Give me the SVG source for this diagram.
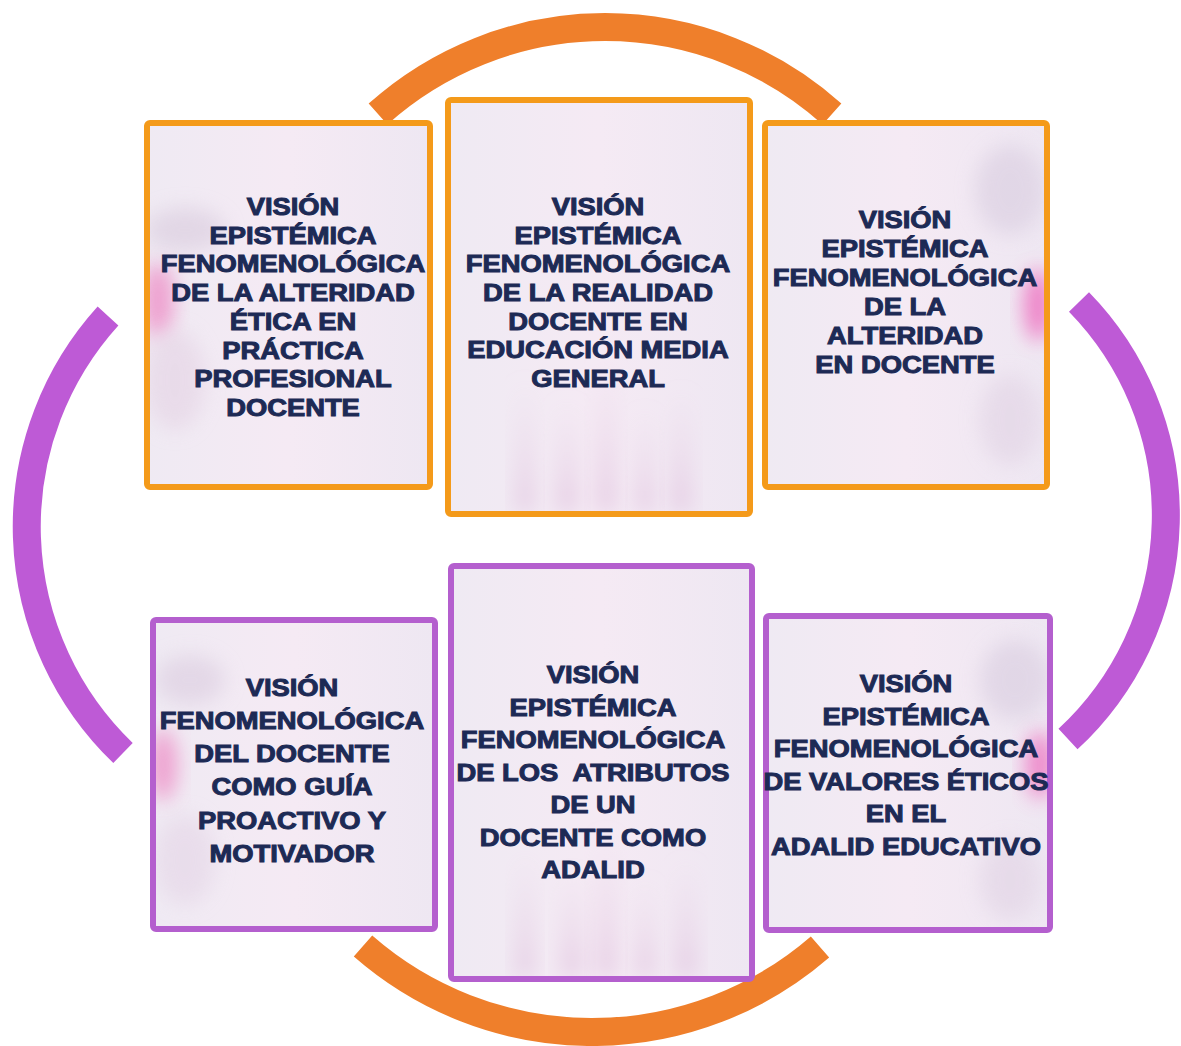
<svg xmlns="http://www.w3.org/2000/svg" width="1181" height="1046" viewBox="0 0 1181 1046">
<defs>
<style>
.arc-o{fill:none;stroke:#EF7F2B;stroke-width:28;stroke-linecap:butt}
.arc-p{fill:none;stroke:#BE5AD6;stroke-width:28;stroke-linecap:butt}
.box-o{fill:url(#bg);stroke:#F49A1A;stroke-width:6}
.box-p{fill:url(#bg);stroke:#B45FCE;stroke-width:6}
.lbl{font-family:"Liberation Sans",Arial,sans-serif;font-weight:bold;font-size:24px;fill:#1D2A55;stroke:#1D2A55;stroke-width:1;text-anchor:middle}
.blob{filter:url(#soft)}
</style>
<linearGradient id="bg" x1="0" y1="0" x2="1" y2="0">
<stop offset="0" stop-color="#EFEAF3"/>
<stop offset="0.5" stop-color="#F5EAF4"/>
<stop offset="1" stop-color="#EEE7F2"/>
</linearGradient>
<linearGradient id="streak" x1="0" y1="0" x2="0" y2="1">
<stop offset="0" stop-color="#E7D2E6" stop-opacity="0"/>
<stop offset="1" stop-color="#DDBBDA" stop-opacity="0.6"/>
</linearGradient>
<filter id="soft" x="-50%" y="-50%" width="200%" height="200%"><feGaussianBlur stdDeviation="10"/></filter>
<clipPath id="c1"><rect x="150" y="126" width="277" height="358"/></clipPath>
<clipPath id="c2"><rect x="451" y="103" width="296" height="408"/></clipPath>
<clipPath id="c3"><rect x="768" y="126" width="276" height="358"/></clipPath>
<clipPath id="c4"><rect x="156" y="623" width="276" height="303"/></clipPath>
<clipPath id="c5"><rect x="454" y="569" width="295" height="407"/></clipPath>
<clipPath id="c6"><rect x="769" y="619" width="278" height="308"/></clipPath>
</defs>
<rect width="1181" height="1046" fill="#FFFFFF"/>

<g id="connectors">
<path class="arc-o" d="M 378 114 A 340 340 0 0 1 832 114"/>
<path class="arc-p" d="M 1079 302 A 305 305 0 0 1 1068 739"/>
<path class="arc-o" d="M 820 947 A 348 348 0 0 1 363 946"/>
<path class="arc-p" d="M 123 753 A 314 314 0 0 1 108 316"/>
</g>

<g id="node1">
<rect class="box-o" x="147" y="123" width="283" height="364" rx="3"/>
<g clip-path="url(#c1)">
<ellipse class="blob" cx="158" cy="300" rx="16" ry="38" fill="#EE8DC6" opacity="0.8"/>
<ellipse class="blob" cx="185" cy="230" rx="40" ry="22" fill="#DCCFE0" opacity="0.7"/>
<ellipse class="blob" cx="175" cy="380" rx="30" ry="50" fill="#E6D6E6" opacity="0.7"/>
</g>
<g transform="translate(293,0) scale(1.14,1)">
<text class="lbl" x="0" y="215">VISIÓN</text>
<text class="lbl" x="0" y="244">EPISTÉMICA</text>
<text class="lbl" x="0" y="272">FENOMENOLÓGICA</text>
<text class="lbl" x="0" y="301">DE LA ALTERIDAD</text>
<text class="lbl" x="0" y="330">ÉTICA EN</text>
<text class="lbl" x="0" y="359">PRÁCTICA</text>
<text class="lbl" x="0" y="387">PROFESIONAL</text>
<text class="lbl" x="0" y="416">DOCENTE</text>
</g>
</g>

<g id="node2">
<rect class="box-o" x="448" y="100" width="302" height="414" rx="3"/>
<g clip-path="url(#c2)">
<rect x="515" y="380" width="20" height="131" fill="url(#streak)" class="blob"/>
<rect x="555" y="400" width="24" height="111" fill="url(#streak)" class="blob"/>
<rect x="595" y="360" width="22" height="151" fill="url(#streak)" class="blob"/>
<rect x="635" y="410" width="20" height="101" fill="url(#streak)" class="blob"/>
<rect x="670" y="390" width="22" height="121" fill="url(#streak)" class="blob"/>
</g>
<g transform="translate(598,0) scale(1.14,1)">
<text class="lbl" x="0" y="215">VISIÓN</text>
<text class="lbl" x="0" y="244">EPISTÉMICA</text>
<text class="lbl" x="0" y="272">FENOMENOLÓGICA</text>
<text class="lbl" x="0" y="301">DE LA REALIDAD</text>
<text class="lbl" x="0" y="330">DOCENTE EN</text>
<text class="lbl" x="0" y="358">EDUCACIÓN MEDIA</text>
<text class="lbl" x="0" y="387">GENERAL</text>
</g>
</g>

<g id="node3">
<rect class="box-o" x="765" y="123" width="282" height="364" rx="3"/>
<g clip-path="url(#c3)">
<ellipse class="blob" cx="1038" cy="305" rx="14" ry="36" fill="#EE6FC0" opacity="0.85"/>
<ellipse class="blob" cx="1010" cy="190" rx="35" ry="45" fill="#DCD0E2" opacity="0.7"/>
<ellipse class="blob" cx="1010" cy="420" rx="30" ry="45" fill="#E3D6E6" opacity="0.7"/>
</g>
<g transform="translate(905,0) scale(1.14,1)">
<text class="lbl" x="0" y="228">VISIÓN</text>
<text class="lbl" x="0" y="257">EPISTÉMICA</text>
<text class="lbl" x="0" y="286">FENOMENOLÓGICA</text>
<text class="lbl" x="0" y="315">DE LA</text>
<text class="lbl" x="0" y="344">ALTERIDAD</text>
<text class="lbl" x="0" y="373">EN DOCENTE</text>
</g>
</g>

<g id="node4">
<rect class="box-p" x="153" y="620" width="282" height="309" rx="3"/>
<g clip-path="url(#c4)">
<ellipse class="blob" cx="163" cy="765" rx="14" ry="36" fill="#EE8DC6" opacity="0.8"/>
<ellipse class="blob" cx="190" cy="680" rx="35" ry="25" fill="#DED0E2" opacity="0.7"/>
<ellipse class="blob" cx="185" cy="860" rx="30" ry="45" fill="#E6D8E8" opacity="0.7"/>
</g>
<g transform="translate(292,0) scale(1.14,1)">
<text class="lbl" x="0" y="696">VISIÓN</text>
<text class="lbl" x="0" y="729">FENOMENOLÓGICA</text>
<text class="lbl" x="0" y="762">DEL DOCENTE</text>
<text class="lbl" x="0" y="795">COMO GUÍA</text>
<text class="lbl" x="0" y="829">PROACTIVO Y</text>
<text class="lbl" x="0" y="862">MOTIVADOR</text>
</g>
</g>

<g id="node5">
<rect class="box-p" x="451" y="566" width="301" height="413" rx="3"/>
<g clip-path="url(#c5)">
<rect x="515" y="850" width="20" height="126" fill="url(#streak)" class="blob"/>
<rect x="560" y="870" width="24" height="106" fill="url(#streak)" class="blob"/>
<rect x="595" y="830" width="22" height="146" fill="url(#streak)" class="blob"/>
<rect x="635" y="880" width="20" height="96" fill="url(#streak)" class="blob"/>
<rect x="675" y="860" width="22" height="116" fill="url(#streak)" class="blob"/>
</g>
<g transform="translate(593,0) scale(1.14,1)">
<text class="lbl" x="0" y="683">VISIÓN</text>
<text class="lbl" x="0" y="716">EPISTÉMICA</text>
<text class="lbl" x="0" y="748">FENOMENOLÓGICA</text>
<text class="lbl" x="0" y="781" xml:space="preserve">DE LOS  ATRIBUTOS</text>
<text class="lbl" x="0" y="813">DE UN</text>
<text class="lbl" x="0" y="846">DOCENTE COMO</text>
<text class="lbl" x="0" y="878">ADALID</text>
</g>
</g>

<g id="node6">
<rect class="box-p" x="766" y="616" width="284" height="314" rx="3"/>
<g clip-path="url(#c6)">
<ellipse class="blob" cx="1040" cy="765" rx="14" ry="34" fill="#EE6FC0" opacity="0.8"/>
<ellipse class="blob" cx="1015" cy="680" rx="35" ry="40" fill="#DCD0E2" opacity="0.7"/>
<ellipse class="blob" cx="1010" cy="880" rx="30" ry="40" fill="#E3D6E6" opacity="0.7"/>
</g>
<g transform="translate(906,0) scale(1.14,1)">
<text class="lbl" x="0" y="692">VISIÓN</text>
<text class="lbl" x="0" y="725">EPISTÉMICA</text>
<text class="lbl" x="0" y="757">FENOMENOLÓGICA</text>
<text class="lbl" x="0" y="790">DE VALORES ÉTICOS</text>
<text class="lbl" x="0" y="822">EN EL</text>
<text class="lbl" x="0" y="855">ADALID EDUCATIVO</text>
</g>
</g>
</svg>
